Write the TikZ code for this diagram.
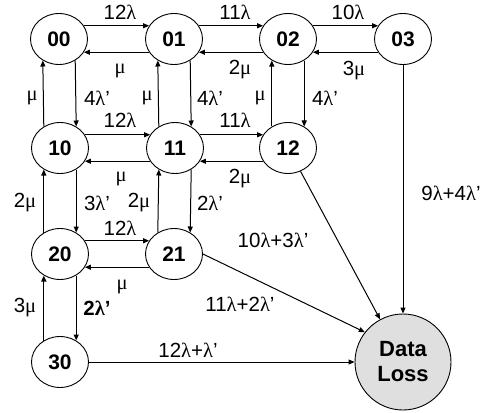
\documentclass[tikz,border=0pt]{standalone}
\usepackage{fontspec}
\setmainfont{Liberation Sans}
\newfontfamily\grk{Liberation Serif}
\usetikzlibrary{arrows.meta,shapes.geometric}
\newcommand\glam{{\grk λ}}
\newcommand\gmu{{\grk μ}}
\begin{document}
\begin{tikzpicture}[x=1pt,y=-1pt,
  st/.style={draw, ellipse, line width=0.9pt, minimum width=57pt, minimum height=51pt, inner sep=0pt, font=\fontsize{21}{22}\selectfont\bfseries},
  dl/.style={draw, circle, line width=0.9pt, fill=gray!25, minimum size=96pt, inner sep=0pt, align=center, font=\fontsize{22}{25}\selectfont\bfseries},
  lab/.style={inner sep=0pt, font=\fontsize{20.5}{22}\selectfont},
  arr/.style={-{Triangle[length=6pt,width=5pt]}, line width=1pt}]
\useasboundingbox (0,0) rectangle (489,412);
% states
\node[st] (n00) at (59,39) {00};
\node[st] (n01) at (174,39) {01};
\node[st] (n02) at (288,39) {02};
\node[st] (n03) at (403,39) {03};
\node[st] (n10) at (60,148) {10};
\node[st] (n11) at (175,148) {11};
\node[st] (n12) at (288,148) {12};
\node[st] (n20) at (60,254) {20};
\node[st] (n21) at (174,254) {21};
\node[st] (n30) at (60,362) {30};
\node[dl] (dl) at (403,362) {Data\\Loss};
% horizontal pairs
\foreach \a/\b in {n00/n01,n01/n02,n02/n03,n10/n11,n11/n12,n20/n21}{
  \draw[arr] (\a.28) -- (\b.152);
  \draw[arr] (\b.-152) -- (\a.-28);
}
% vertical pairs
\foreach \a/\b in {n00/n10,n01/n11,n02/n12,n10/n20,n11/n21}{
  \draw[arr] (\a.-53) -- (\b.53);
  \draw[arr] (\b.127) -- (\a.-127);
}
\draw[arr, line width=1.4pt] (n20.-53) -- (n30.53);
\draw[arr, line width=1.4pt] (n30.127) -- (n20.-127);
% to data loss
\draw[arr] (n03) -- (dl);
\draw[arr] (n12) -- (dl);
\draw[arr] (n21.0) -- (dl.142);
\draw[arr] (n30) -- (dl);
% labels
\node[lab] (l1) at (120,12) {12\glam};
\node[lab] (l2) at (235,12) {11\glam};
\node[lab] (l3) at (348,12) {10\glam};
\node[lab] (l4) at (120,71) {\gmu};
\node[lab] (l5) at (240,70) {2\gmu};
\node[lab] (l6) at (354,71) {3\gmu};
\node[lab] (l7) at (32,98) {\gmu};
\node[lab] (l8) at (97,98) {4\glam'};
\node[lab] (l9) at (147,98) {\gmu};
\node[lab] (l10) at (210,98) {4\glam'};
\node[lab] (l11) at (260,98) {\gmu};
\node[lab] (l12) at (325,98) {4\glam'};
\node[lab] (l13) at (120,120) {12\glam};
\node[lab] (l14) at (235,120) {11\glam};
\node[lab] (l15) at (121,179) {\gmu};
\node[lab] (l16) at (240,179) {2\gmu};
\node[lab] (l17) at (25,203) {2\gmu};
\node[lab] (l18) at (97,203) {3\glam'};
\node[lab] (l19) at (139,203) {2\gmu};
\node[lab] (l20) at (210,203) {2\glam'};
\node[lab] (l21) at (120,228) {12\glam};
\node[lab] (l22) at (122,287) {\gmu};
\node[lab] (l23) at (25,308) {3\gmu};
\node[lab] (l24) at (97,308) {\bfseries 2\glam'};
\node[lab] (l25) at (188,350) {12\glam+\glam'};
\node[lab] (l26) at (240,304) {11\glam+2\glam'};
\node[lab] (l27) at (273,240) {10\glam+3\glam'};
\node[lab] (l28) at (451,193) {9\glam+4\glam'};
\end{tikzpicture}
\end{document}
